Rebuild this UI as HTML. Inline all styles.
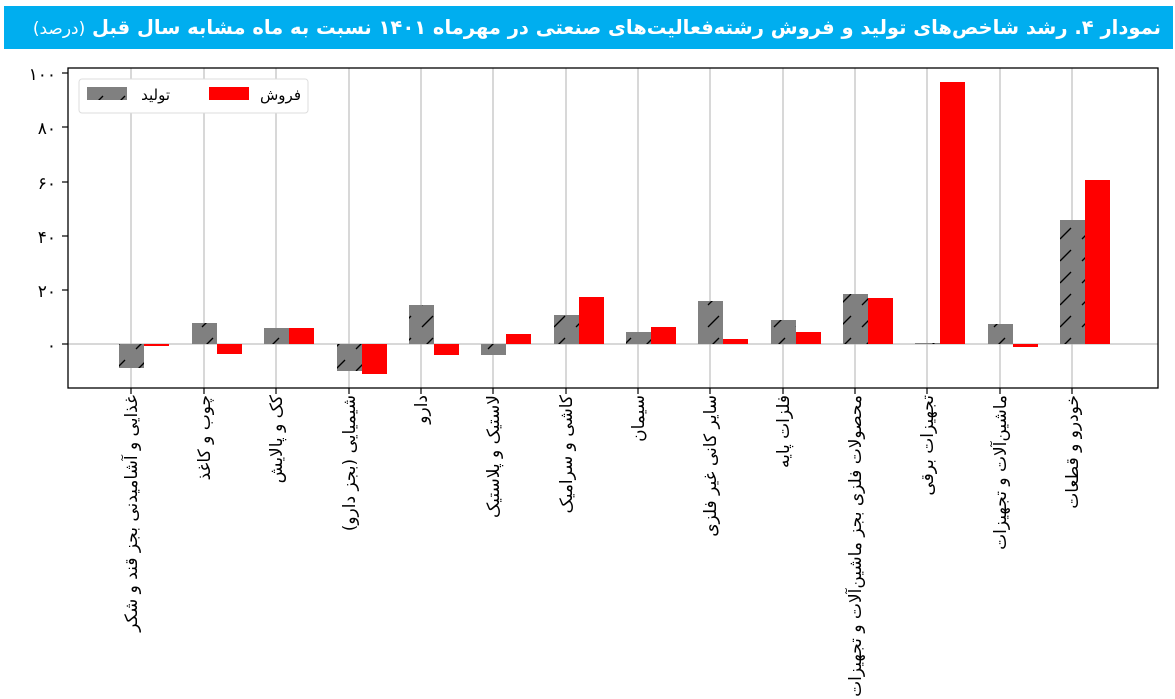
<!DOCTYPE html>
<html><head><meta charset="utf-8"><style>
body{margin:0;background:#fff;width:1175px;height:699px;overflow:hidden;font-family:"DejaVu Sans","Liberation Sans",sans-serif;position:relative}
#t{position:absolute;left:4px;top:6px;width:1157px;height:43px;background:#00aeef;color:#fff;direction:rtl;text-align:right;padding-right:12px;font-size:19.5px;font-weight:bold;line-height:43px;white-space:nowrap;overflow:hidden}
#t span{font-weight:normal;font-size:17px}
svg{position:absolute;left:0;top:0}
</style></head><body>
<svg width="1175" height="699" xmlns="http://www.w3.org/2000/svg" font-family="'DejaVu Sans','Liberation Sans',sans-serif">
<defs>
<pattern id="h" patternUnits="userSpaceOnUse" width="22" height="22">
<rect width="22" height="22" fill="#808080"/>
<path d="M4 19 L15 8" stroke="#000" stroke-width="1.3"/>
</pattern>
</defs>
<g stroke="#b0b0b0" stroke-width="1">
<line x1="131" y1="68" x2="131" y2="388"/><line x1="204" y1="68" x2="204" y2="388"/><line x1="276" y1="68" x2="276" y2="388"/><line x1="349" y1="68" x2="349" y2="388"/><line x1="421" y1="68" x2="421" y2="388"/><line x1="493" y1="68" x2="493" y2="388"/><line x1="566" y1="68" x2="566" y2="388"/><line x1="638" y1="68" x2="638" y2="388"/><line x1="710" y1="68" x2="710" y2="388"/><line x1="783" y1="68" x2="783" y2="388"/><line x1="855" y1="68" x2="855" y2="388"/><line x1="927" y1="68" x2="927" y2="388"/><line x1="1000" y1="68" x2="1000" y2="388"/><line x1="1072" y1="68" x2="1072" y2="388"/>
<line x1="68" y1="344" x2="1158" y2="344"/>
</g>
<g>
<rect x="119" y="344" width="25" height="24" fill="url(#h)"/><rect x="144" y="344" width="25" height="2" fill="#f00"/>
<rect x="192" y="323" width="25" height="21" fill="url(#h)"/><rect x="217" y="344" width="25" height="10" fill="#f00"/>
<rect x="264" y="328" width="25" height="16" fill="url(#h)"/><rect x="289" y="328" width="25" height="16" fill="#f00"/>
<rect x="337" y="344" width="25" height="27" fill="url(#h)"/><rect x="362" y="344" width="25" height="30" fill="#f00"/>
<rect x="409" y="305" width="25" height="39" fill="url(#h)"/><rect x="434" y="344" width="25" height="11" fill="#f00"/>
<rect x="481" y="344" width="25" height="11" fill="url(#h)"/><rect x="506" y="334" width="25" height="10" fill="#f00"/>
<rect x="554" y="315" width="25" height="29" fill="url(#h)"/><rect x="579" y="297" width="25" height="47" fill="#f00"/>
<rect x="626" y="332" width="25" height="12" fill="url(#h)"/><rect x="651" y="327" width="25" height="17" fill="#f00"/>
<rect x="698" y="301" width="25" height="43" fill="url(#h)"/><rect x="723" y="339" width="25" height="5" fill="#f00"/>
<rect x="771" y="320" width="25" height="24" fill="url(#h)"/><rect x="796" y="332" width="25" height="12" fill="#f00"/>
<rect x="843" y="294" width="25" height="50" fill="url(#h)"/><rect x="868" y="298" width="25" height="46" fill="#f00"/>
<rect x="915" y="343" width="25" height="1" fill="url(#h)"/><rect x="940" y="82" width="25" height="262" fill="#f00"/>
<rect x="988" y="324" width="25" height="20" fill="url(#h)"/><rect x="1013" y="344" width="25" height="3" fill="#f00"/>
<rect x="1060" y="220" width="25" height="124" fill="url(#h)"/><rect x="1085" y="180" width="25" height="164" fill="#f00"/>
</g>
<rect x="68" y="68" width="1090" height="320" fill="none" stroke="#000" stroke-width="1.3"/>
<g stroke="#000" stroke-width="1.2">
<line x1="62" y1="73" x2="68" y2="73"/><line x1="62" y1="127" x2="68" y2="127"/><line x1="62" y1="182" x2="68" y2="182"/><line x1="62" y1="236" x2="68" y2="236"/><line x1="62" y1="290" x2="68" y2="290"/><line x1="62" y1="344" x2="68" y2="344"/>
</g>
<g font-size="17" text-anchor="end" fill="#000">
<text x="56" y="80">۱۰۰</text><text x="56" y="134">۸۰</text><text x="56" y="189">۶۰</text><text x="56" y="243">۴۰</text><text x="56" y="297">۲۰</text><text x="56" y="351">۰</text>
</g>
<rect x="79" y="79" width="229" height="34" rx="3" fill="#fff" stroke="#ddd"/>
<rect x="87" y="87" width="40" height="13" fill="url(#h)"/>
<text x="170" y="100" font-size="15" text-anchor="end">تولید</text>
<rect x="209" y="87" width="40" height="13" fill="#f00"/>
<text x="301" y="100" font-size="15" text-anchor="end">فروش</text>
<g font-size="17" fill="#000" text-anchor="end">
<text transform="translate(137,395) rotate(-90)">غذایی و آشامیدنی بجز قند و شکر</text>
<text transform="translate(210,395) rotate(-90)">چوب و کاغذ</text>
<text transform="translate(282,395) rotate(-90)">کک و پالایش</text>
<text transform="translate(355,395) rotate(-90)">شیمیایی (بجز دارو)</text>
<text transform="translate(427,395) rotate(-90)">دارو</text>
<text transform="translate(499,395) rotate(-90)">لاستیک و پلاستیک</text>
<text transform="translate(572,395) rotate(-90)">کاشی و سرامیک</text>
<text transform="translate(644,395) rotate(-90)">سیمان</text>
<text transform="translate(716,395) rotate(-90)">سایر کانی غیر فلزی</text>
<text transform="translate(789,395) rotate(-90)">فلزات پایه</text>
<text transform="translate(861,395) rotate(-90)">محصولات فلزی بجز ماشین‌آلات و تجهیزات</text>
<text transform="translate(933,395) rotate(-90)">تجهیزات برقی</text>
<text transform="translate(1006,395) rotate(-90)">ماشین‌آلات و تجهیزات</text>
<text transform="translate(1078,395) rotate(-90)">خودرو و قطعات</text>
</g>
<g stroke="#000" stroke-width="1.2">
<line x1="131" y1="388" x2="131" y2="394"/><line x1="204" y1="388" x2="204" y2="394"/><line x1="276" y1="388" x2="276" y2="394"/><line x1="349" y1="388" x2="349" y2="394"/><line x1="421" y1="388" x2="421" y2="394"/><line x1="493" y1="388" x2="493" y2="394"/><line x1="566" y1="388" x2="566" y2="394"/><line x1="638" y1="388" x2="638" y2="394"/><line x1="710" y1="388" x2="710" y2="394"/><line x1="783" y1="388" x2="783" y2="394"/><line x1="855" y1="388" x2="855" y2="394"/><line x1="927" y1="388" x2="927" y2="394"/><line x1="1000" y1="388" x2="1000" y2="394"/><line x1="1072" y1="388" x2="1072" y2="394"/>
</g>
</svg>
<div id="t">نمودار ۴. رشد شاخص‌های تولید و فروش رشته‌فعالیت‌های صنعتی در مهرماه ۱۴۰۱ نسبت به ماه مشابه سال قبل <span>(درصد)</span></div>
</body></html>
